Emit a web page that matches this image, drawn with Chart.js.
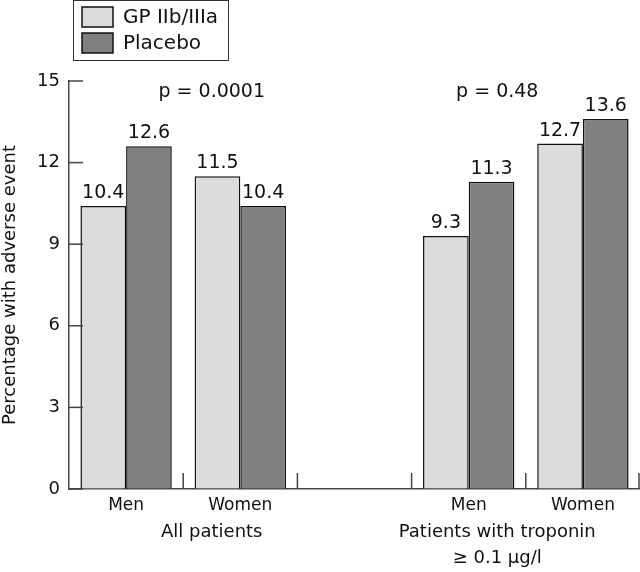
<!DOCTYPE html>
<html>
<head>
<meta charset="utf-8">
<script src="https://cdn.jsdelivr.net/npm/chart.js@4.4.1/dist/chart.umd.min.js"></script>
<style>
  body { margin: 0; background: #fff; }
  canvas { display: block; }
</style>
</head>
<body>
<canvas id="adverseChart" width="640" height="572"></canvas>
<script>
const categories = ['Men', 'Women', '', 'Men', 'Women'];
const gpValues = [10.4, 11.5, null, 9.3, 12.7];
const placeboValues = [12.6, 10.4, null, 11.3, 13.6];
const yTicks = [0, 3, 6, 9, 12, 15];
const groupNames = [['All patients'], ['Patients with troponin', '\u2265 0.1 \u00b5g/l']];
const pValues = ['p = 0.0001', 'p = 0.48'];

const FONT = '"DejaVu Sans", sans-serif';
const INK = '#111';
const AXIS = '#444';

// extra drawing: inward ticks, legend box, value labels, p values, group names
const decorations = {
    id: 'decorations',
    afterDraw(chart) {
        const ctx = chart.ctx;
        const x = chart.scales.x;
        const y = chart.scales.y;
        const slot = (x.right - x.left) / categories.length;

        ctx.save();
        ctx.strokeStyle = AXIS;
        ctx.lineWidth = 1.5;
        yTicks.forEach(t => {
            const py = y.getPixelForValue(t);
            ctx.beginPath();
            ctx.moveTo(x.left, py);
            ctx.lineTo(x.left + 14, py);
            ctx.stroke();
        });
        for (let i = 1; i <= categories.length; i++) {
            const px = Math.min(x.left + i * slot, chart.width - 1);
            ctx.beginPath();
            ctx.moveTo(px, y.bottom);
            ctx.lineTo(px, y.bottom - 16);
            ctx.stroke();
        }

        // value labels above bars
        ctx.fillStyle = INK;
        ctx.font = '19px ' + FONT;
        ctx.textAlign = 'center';
        ctx.textBaseline = 'alphabetic';
        chart.data.datasets.forEach((ds, di) => {
            chart.getDatasetMeta(di).data.forEach((bar, i) => {
                if (ds.data[i] == null) return;
                ctx.fillText(ds.data[i].toFixed(1), bar.x, bar.y - 8);
            });
        });

        // p values and group names
        const groupX = [1.25, 3.75].map(f => x.left + f * slot);
        pValues.forEach((p, i) => ctx.fillText(p, groupX[i], 97));
        ctx.font = '18px ' + FONT;
        groupNames.forEach((lines, i) => {
            lines.forEach((line, j) => ctx.fillText(line, groupX[i], 537 + j * 26));
        });

        // legend
        ctx.lineWidth = 1;
        ctx.strokeStyle = '#333';
        ctx.strokeRect(73.5, 0.5, 155, 60);
        ctx.font = '20px ' + FONT;
        ctx.textAlign = 'left';
        ctx.textBaseline = 'middle';
        chart.data.datasets.forEach((ds, di) => {
            const top = 7 + di * 26;
            ctx.fillStyle = ds.backgroundColor;
            ctx.fillRect(82, top, 31, 20);
            ctx.lineWidth = 1.5;
            ctx.strokeStyle = INK;
            ctx.strokeRect(82, top, 31, 20);
            ctx.fillStyle = INK;
            ctx.fillText(ds.label, 123, top + 11);
        });
        ctx.restore();
    }
};

new Chart(document.getElementById('adverseChart'), {
    type: 'bar',
    data: {
        labels: categories,
        datasets: [{
            label: 'GP IIb/IIIa',
            data: gpValues,
            backgroundColor: '#dcdcdc',
            borderColor: INK,
            borderWidth: 1.5
        }, {
            label: 'Placebo',
            data: placeboValues,
            backgroundColor: '#808080',
            borderColor: INK,
            borderWidth: 1.5
        }]
    },
    options: {
        responsive: false,
        animation: false,
        categoryPercentage: 0.8,
        barPercentage: 1.0,
        layout: { padding: { top: 81, left: 0, right: 0, bottom: 0 } },
        plugins: {
            legend: { display: false },
            tooltip: { enabled: false }
        },
        scales: {
            x: {
                grid: { display: true, offset: true, drawOnChartArea: false, drawTicks: false },
                border: { color: AXIS, width: 1.5 },
                ticks: { color: INK, font: { family: FONT, size: 17 }, padding: 6 },
                afterFit(scale) { scale.height = 83; }
            },
            y: {
                min: 0,
                max: 15,
                afterBuildTicks(scale) { scale.ticks = yTicks.map(v => ({ value: v })); },
                grid: { display: true, drawOnChartArea: false, drawTicks: false },
                border: { color: AXIS, width: 1.5 },
                ticks: { color: INK, font: { family: FONT, size: 18 }, padding: 9 },
                title: {
                    display: true,
                    text: 'Percentage with adverse event',
                    color: INK,
                    font: { family: FONT, size: 18 },
                    padding: 0
                },
                afterFit(scale) { scale.width = 69; }
            }
        }
    },
    plugins: [decorations]
});
</script>
</body>
</html>
